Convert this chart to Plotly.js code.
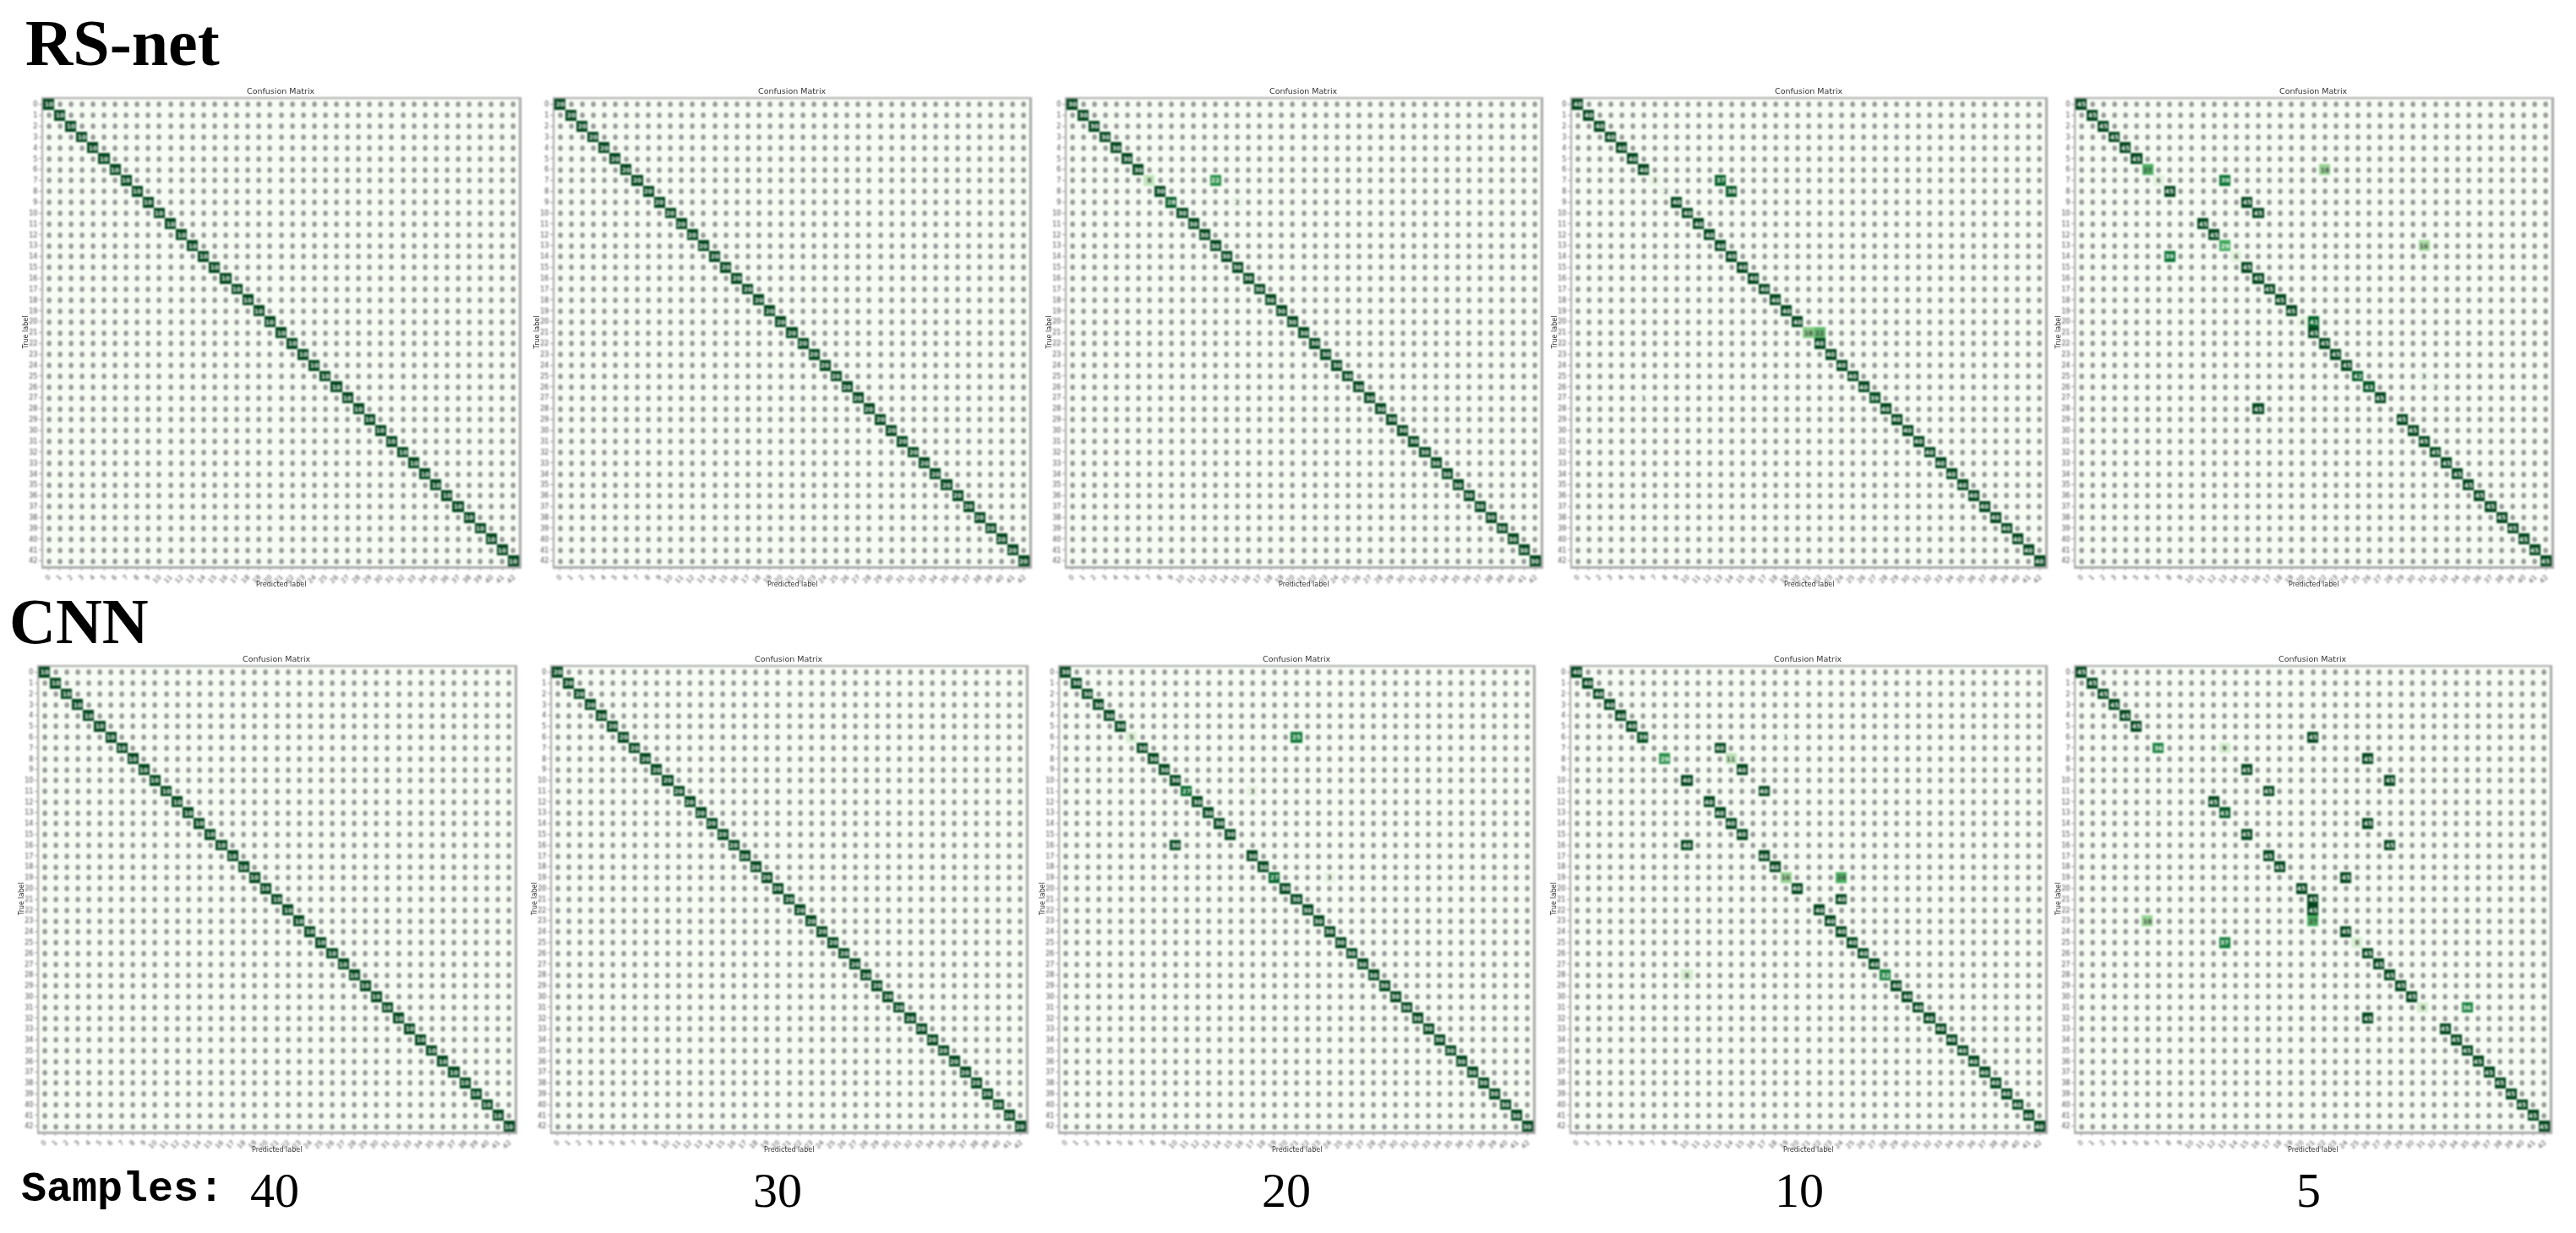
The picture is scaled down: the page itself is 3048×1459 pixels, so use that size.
<!DOCTYPE html>
<html><head><meta charset="utf-8">
<script src="https://cdn.plot.ly/plotly-3.0.1.min.js"></script>
<style>
html,body{margin:0;padding:0;background:#fff}
#g{width:3048px;height:1459px}
.cartesianlayer{filter:blur(.85px)}
.annotation:nth-child(-n+30){filter:blur(.7px)}
</style></head><body><div id="g"></div>
<script>
const classes=[0,1,2,3,4,5,6,7,8,9,10,11,12,13,14,15,16,17,18,19,20,21,22,23,24,25,26,27,28,29,30,31,32,33,34,35,36,37,38,39,40,41,42];
const greens=['#f7fcf5','#e5f5e0','#c7e9c0','#a1d99b','#74c476','#41ab5d','#238b45','#006d2c','#00441b'];

// For each panel: predicted class receiving most samples per true class, that count, and remaining [true,pred,count].
const rsnet40Pred=[0,1,2,3,4,5,6,7,8,9,10,11,12,13,14,15,16,17,18,19,20,21,22,23,24,25,26,27,28,29,30,31,32,33,34,35,36,37,38,39,40,41,42];
const rsnet40Count=[10,10,10,10,10,10,10,10,10,10,10,10,10,10,10,10,10,10,10,10,10,10,10,10,10,10,10,10,10,10,10,10,10,10,10,10,10,10,10,10,10,10,10];
const rsnet40Extra=[];
const rsnet30Pred=[0,1,2,3,4,5,6,7,8,9,10,11,12,13,14,15,16,17,18,19,20,21,22,23,24,25,26,27,28,29,30,31,32,33,34,35,36,37,38,39,40,41,42];
const rsnet30Count=[20,20,20,20,20,20,20,20,20,20,20,20,20,20,20,20,20,20,20,20,20,20,20,20,20,20,20,20,20,20,20,20,20,20,20,20,20,20,20,20,20,20,20];
const rsnet30Extra=[];
const rsnet20Pred=[0,1,2,3,4,5,6,13,8,9,10,11,12,13,14,15,16,17,18,19,20,21,22,23,24,25,26,27,28,29,30,31,32,33,34,35,36,37,38,39,40,41,42];
const rsnet20Count=[30,30,30,30,30,30,30,22,30,28,30,30,30,30,30,30,30,30,30,30,30,30,30,30,30,30,30,30,30,30,30,30,30,30,30,30,30,30,30,30,30,30,30];
const rsnet20Extra=[[7,7,8],[9,15,2]];
const rsnet10Pred=[0,1,2,3,4,5,6,13,14,9,10,11,12,13,14,15,16,17,18,19,20,22,22,23,24,25,26,27,28,29,30,31,32,33,34,35,36,37,38,39,40,41,42];
const rsnet10Count=[40,40,40,40,40,40,40,37,38,40,40,40,40,40,40,40,40,40,40,40,40,22,40,40,40,40,40,39,40,40,40,40,40,40,40,40,40,40,40,40,40,40,40];
const rsnet10Extra=[[7,7,3],[8,8,2],[21,21,18],[27,6,1]];
const rsnet5Pred=[0,1,2,3,4,5,6,13,8,15,16,11,12,13,8,15,16,17,18,19,21,21,22,23,24,25,26,27,16,29,30,31,32,33,34,35,36,37,38,39,40,41,42];
const rsnet5Count=[45,45,45,45,45,45,27,39,45,45,45,45,45,29,39,45,45,45,45,45,41,45,45,45,45,42,43,45,45,45,45,45,45,45,45,45,45,45,45,45,45,45,45];
const rsnet5Extra=[[6,22,18],[7,7,6],[13,31,16],[14,14,6],[20,20,4],[25,31,3],[26,32,2]];

const cnn40Pred=[0,1,2,3,4,5,6,7,8,9,10,11,12,13,14,15,16,17,18,19,20,21,22,23,24,25,26,27,28,29,30,31,32,33,34,35,36,37,38,39,40,41,42];
const cnn40Count=[10,10,10,10,10,10,10,10,10,10,10,10,10,10,10,10,10,10,10,10,10,10,10,10,10,10,10,10,10,10,10,10,10,10,10,10,10,10,10,10,10,10,10];
const cnn40Extra=[];
const cnn30Pred=[0,1,2,3,4,5,6,7,8,9,10,11,12,13,14,15,16,17,18,19,20,21,22,23,24,25,26,27,28,29,30,31,32,33,34,35,36,37,38,39,40,41,42];
const cnn30Count=[20,20,20,20,20,20,20,20,20,20,20,20,20,20,20,20,20,20,20,20,20,20,20,20,20,20,20,20,20,20,20,20,20,20,20,20,20,20,20,20,20,20,20];
const cnn30Extra=[];
const cnn20Pred=[0,1,2,3,4,5,21,7,8,9,10,11,12,13,14,15,10,17,18,19,20,21,22,23,24,25,26,27,28,29,30,31,32,33,34,35,36,37,38,39,40,41,42];
const cnn20Count=[30,30,30,30,30,30,25,30,30,30,30,27,30,30,30,30,30,30,30,27,30,30,30,30,30,30,30,30,30,30,30,30,30,30,30,30,30,30,30,30,30,30,30];
const cnn20Extra=[[6,6,5],[11,17,3],[19,24,3]];
const cnn10Pred=[0,1,2,3,4,5,6,13,8,15,10,17,12,13,14,15,10,17,18,24,20,24,22,23,24,25,26,27,28,29,30,31,32,33,34,35,36,37,38,39,40,41,42];
const cnn10Count=[40,40,40,40,40,40,39,40,29,40,40,40,40,40,40,40,40,40,40,24,40,40,40,40,40,40,40,40,32,40,40,40,40,40,40,40,40,40,40,40,40,40,40];
const cnn10Extra=[[6,19,1],[8,14,11],[19,19,16],[28,10,8]];
const cnn5Pred=[0,1,2,3,4,5,21,7,26,15,28,17,12,13,26,15,28,17,18,24,20,21,21,21,24,13,26,27,28,29,30,35,26,33,34,35,36,37,38,39,40,41,42];
const cnn5Count=[45,45,45,45,45,45,45,36,45,45,45,45,45,43,45,45,45,45,45,45,45,45,45,27,45,37,45,45,45,45,45,36,45,45,45,45,45,45,45,45,45,45,45];
const cnn5Extra=[[7,13,9],[13,7,2],[23,6,18],[25,25,8],[31,31,9]];

const panelData=[
 [rsnet40Pred,rsnet40Count,rsnet40Extra],[rsnet30Pred,rsnet30Count,rsnet30Extra],[rsnet20Pred,rsnet20Count,rsnet20Extra],[rsnet10Pred,rsnet10Count,rsnet10Extra],[rsnet5Pred,rsnet5Count,rsnet5Extra],
 [cnn40Pred,cnn40Count,cnn40Extra],[cnn30Pred,cnn30Count,cnn30Extra],[cnn20Pred,cnn20Count,cnn20Extra],[cnn10Pred,cnn10Count,cnn10Extra],[cnn5Pred,cnn5Count,cnn5Extra]];
const sampleLabels=['40','30','20','10','5'];

// layout (pixels): left,right,top,bottom of each plot area
const W=3048,H=1459;
const boxes=[[51,614,117,670],[656,1218,117,670],[1262,1823,117,670],[1860,2420,117,670],[2456,3019,117,670],
             [46,609,789,1339],[653,1214,789,1339],[1254,1814,789,1339],[1859,2420,789,1339],[2456,3017,789,1339]];
const sampleX=[325,920,1522,2129,2731];

const colorscale=greens.map((c,i)=>[i/(greens.length-1),c]);
const traces=[],layout={width:W,height:H,margin:{l:0,r:0,t:0,b:0},paper_bgcolor:'#fff',plot_bgcolor:'#fff',showlegend:false,annotations:[]};
const tf={family:'"DejaVu Sans",sans-serif',size:8,color:'#444'};
const smallAnn=(text,x,y,ya,size,angle)=>layout.annotations.push({xref:'paper',yref:'paper',x:x/W,y:1-y/H,xanchor:'center',yanchor:ya,showarrow:false,text:text,textangle:angle,font:{family:tf.family,size:size,color:'#333'}});
panelData.forEach((p,i)=>{
  const z=classes.map(()=>classes.map(()=>0));
  p[0].forEach((col,r)=>{z[r][col]=p[1][r];});
  p[2].forEach(e=>{z[e[0]][e[1]]=e[2];});
  const zmax=Math.max(...p[1]);
  const n=i+1,b=boxes[i];
  traces.push({type:'heatmap',x:classes,y:classes,z:z,zmin:0,zmax:zmax,colorscale:colorscale,showscale:false,
    texttemplate:'%{z}',textfont:{family:'"DejaVu Sans",sans-serif',size:7.5,weight:700},hoverinfo:'skip',
    xaxis:'x'+n,yaxis:'y'+n});
  const common={ticks:'outside',ticklen:2.5,tickwidth:1,tickcolor:'#888',tickmode:'array',tickvals:classes,ticktext:classes.map(String),
    showgrid:false,zeroline:false,showline:true,mirror:true,linecolor:'#a8a8a8',linewidth:2.5,tickfont:tf,automargin:false};
  layout['xaxis'+n]=Object.assign({},common,{domain:[b[0]/W,b[1]/W],range:[-0.5,42.5],anchor:'y'+n,tickangle:-45});
  layout['yaxis'+n]=Object.assign({},common,{domain:[1-b[3]/H,1-b[2]/H],range:[42.5,-0.5],anchor:'x'+n,tickangle:0});
  smallAnn('Confusion Matrix',(b[0]+b[1])/2,b[2]-2,'bottom',9.5,0);
});
boxes.forEach(b=>smallAnn('Predicted label',(b[0]+b[1])/2,b[3]+21,'middle',8,0));
boxes.forEach(b=>smallAnn('True label',b[0]-21,(b[2]+b[3])/2,'middle',8,-90));
const add=(text,x,y,xa,font)=>layout.annotations.push({xref:'paper',yref:'paper',x:x/W,y:1-y/H,xanchor:xa,yanchor:'middle',showarrow:false,text:text,font:font});
const serifB={family:'"Liberation Serif",serif',size:78,color:'#000'};
add('<b>RS-net</b>',28,50,'left',serifB);
add('<b>CNN</b>',9,735,'left',Object.assign({},serifB,{size:76}));
add('Samples:',23,1407,'left',{family:'"Liberation Mono",monospace',size:50,color:'#000',weight:700});
sampleLabels.forEach((s,i)=>add(s,sampleX[i],1408,'center',{family:'"Liberation Serif",serif',size:58,color:'#000'}));
Plotly.newPlot('g',traces,layout,{staticPlot:true,displayModeBar:false});
</script></body></html>
